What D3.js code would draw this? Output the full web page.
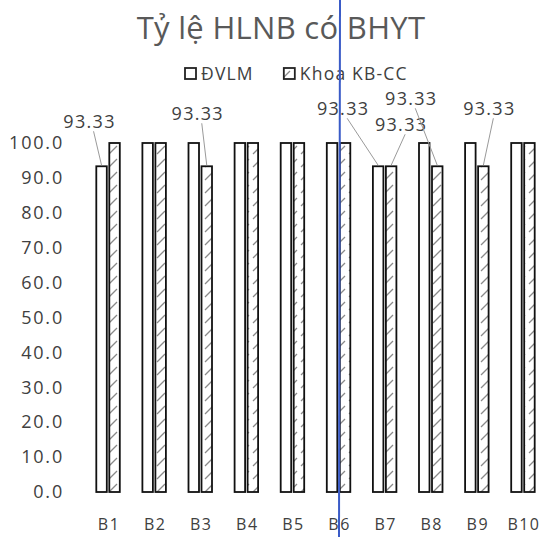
<!DOCTYPE html>
<html>
<head>
<meta charset="utf-8">
<script src="https://cdn.jsdelivr.net/npm/d3@7"></script>
<style>
  body { margin: 0; background: #fff; }
  text { font-family: "Open Sans", "Noto Sans", sans-serif; }
</style>
</head>
<body>
<div id="chart"></div>
<script>
// dữ liệu
const categories = ["B1", "B2", "B3", "B4", "B5", "B6", "B7", "B8", "B9", "B10"];
const seriesNames = ["ĐVLM", "Khoa KB-CC"];
const dvlm = [93.33, 100, 100, 100, 100, 100, 93.33, 100, 100, 100];
const khoa = [100, 100, 93.33, 100, 100, 100, 93.33, 93.33, 93.33, 100];
const yTicks = [0, 10, 20, 30, 40, 50, 60, 70, 80, 90, 100];
const titleText = "Tỷ lệ HLNB có BHYT";

// nhãn dữ liệu hiển thị (series, category) và vị trí dịch chuyển nhãn
const labelled = [
  { s: 0, c: "B1", dx: -12, dy: -45 },
  { s: 1, c: "B3", dx: -9, dy: -53 },
  { s: 0, c: "B7", dx: -35, dy: -58 },
  { s: 1, c: "B7", dx: 10, dy: -42 },
  { s: 1, c: "B8", dx: -26, dy: -68 },
  { s: 1, c: "B9", dx: 6, dy: -58 }
];

const W = 543, H = 537;
const svg = d3.select("#chart").append("svg")
  .attr("width", W).attr("height", H);

const x = d3.scaleBand().domain(categories).range([85, 546]);
const y = d3.scaleLinear().domain([0, 100]).range([492, 143]);
const barW = 10.5, gap = 2.5;

// pattern gạch chéo
const defs = svg.append("defs");
const pat = defs.append("pattern")
  .attr("id", "hatch")
  .attr("patternUnits", "userSpaceOnUse")
  .attr("width", 12).attr("height", 13);
pat.append("rect").attr("width", 12).attr("height", 13).attr("fill", "#fff");
pat.append("line")
  .attr("x1", 1).attr("y1", 11).attr("x2", 9).attr("y2", 3)
  .attr("stroke", "#8a8a8a").attr("stroke-width", 1.3);

// tiêu đề
svg.append("text")
  .attr("x", 281).attr("y", 39)
  .attr("text-anchor", "middle")
  .attr("font-size", 31)
  .attr("letter-spacing", 0.3)
  .attr("fill", "#595959")
  .text(titleText);

// chú giải
const legend = svg.append("g").attr("transform", "translate(185,68)");
let lx = 0;
seriesNames.forEach((name, i) => {
  legend.append("rect")
    .attr("x", lx).attr("y", 0).attr("width", 11).attr("height", 11)
    .attr("fill", i === 0 ? "#fff" : "url(#hatch)")
    .attr("stroke", "#222").attr("stroke-width", 1.8);
  const t = legend.append("text")
    .attr("x", lx + 16).attr("y", 12)
    .attr("font-size", 17.5).attr("letter-spacing", 1.2).attr("fill", "#404040")
    .text(name);
  lx += 16 + t.node().getComputedTextLength() + 30;
});

// trục y
const yAxis = svg.append("g")
  .attr("transform", "translate(66,0)")
  .call(d3.axisLeft(y).tickValues(yTicks).tickFormat(d3.format(".1f")).tickSize(0).tickPadding(2));
yAxis.select(".domain").remove();
yAxis.selectAll("text").attr("font-size", 18).attr("fill", "#404040")
  .attr("letter-spacing", 1.8)
  .attr("font-family", "'Open Sans', sans-serif");

// trục x
const xAxis = svg.append("g")
  .attr("transform", "translate(1,519)")
  .call(d3.axisBottom(x).tickSize(0).tickPadding(0));
xAxis.select(".domain").remove();
xAxis.selectAll("text").attr("font-size", 16).attr("fill", "#404040")
  .attr("letter-spacing", 1.5)
  .attr("font-family", "'Open Sans', sans-serif");

// cột
const series = [dvlm, khoa];
const barX = (c, s) => x(c) + x.bandwidth() / 2 - barW - gap / 2 + s * (barW + gap);
series.forEach((vals, s) => {
  svg.append("g").selectAll("rect")
    .data(categories.map((c, i) => ({ c, v: vals[i] })))
    .join("rect")
    .attr("x", d => barX(d.c, s))
    .attr("y", d => y(d.v))
    .attr("width", barW)
    .attr("height", d => y(0) - y(d.v))
    .attr("fill", s === 0 ? "#fff" : "url(#hatch)")
    .attr("stroke", "#111")
    .attr("stroke-width", 1.8);
});

// nhãn dữ liệu với đường dẫn
labelled.forEach(l => {
  const i = categories.indexOf(l.c);
  const v = series[l.s][i];
  const bx = barX(l.c, l.s) + barW / 2;
  const by = y(v);
  const tx = bx + l.dx, ty = by + l.dy;
  svg.append("line")
    .attr("x1", tx + 4).attr("y1", ty + 10)
    .attr("x2", bx).attr("y2", by - 1)
    .attr("stroke", "#9a9a9a").attr("stroke-width", 1);
  svg.append("text")
    .attr("x", tx).attr("y", ty + 6.5)
    .attr("text-anchor", "middle")
    .attr("font-size", 18).attr("letter-spacing", 1.3)
    .attr("fill", "#404040")
    .text(v.toFixed(2));
});

// đường kẻ màu xanh trên bản quét
svg.append("line")
  .attr("x1", 340).attr("y1", 0).attr("x2", 339).attr("y2", H)
  .attr("stroke", "#3a5bc7").attr("stroke-width", 2);
</script>
</body>
</html>
